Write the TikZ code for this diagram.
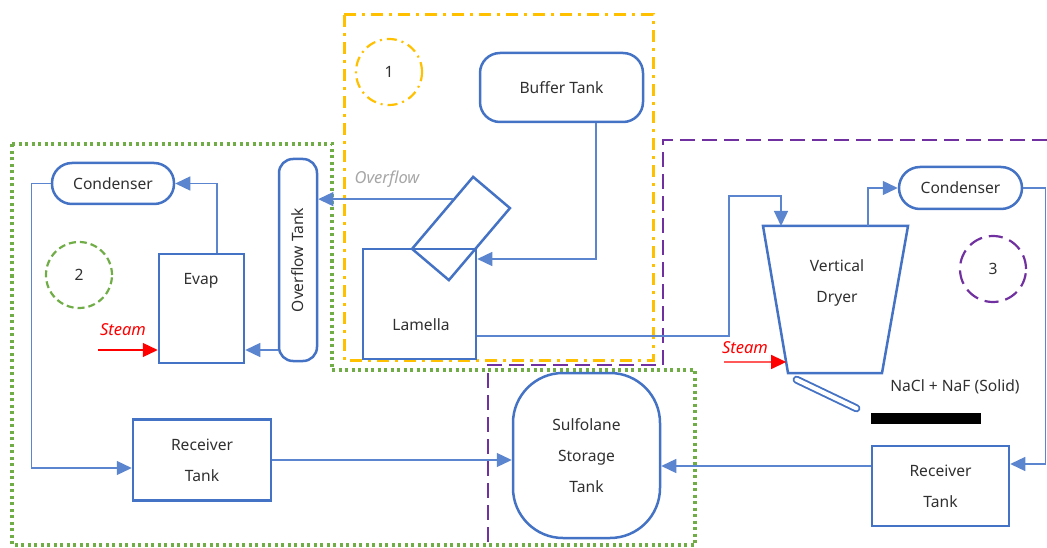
\documentclass[tikz,border=0pt]{standalone}
\usepackage{fontspec}
\usepackage{graphicx}
\setmainfont{Noto Sans}
\usetikzlibrary{arrows.meta,calc}
\definecolor{boxblue}{HTML}{4472C4}
\definecolor{lineblue}{HTML}{5B85CF}
\definecolor{txtgray}{HTML}{303030}
\definecolor{zoneyellow}{HTML}{FFC000}
\definecolor{zonegreen}{HTML}{70AD47}
\definecolor{zonepurple}{HTML}{7030A0}
\definecolor{ovgray}{HTML}{A6A6A6}
\begin{document}
\begin{tikzpicture}[x=1pt,y=-1pt,
  txt/.style={text=txtgray,font=\fontsize{15.6}{18}\selectfont,inner sep=0pt},
  multi/.style={align=center,font=\fontsize{15.6}{31}\selectfont},
  unit/.style={draw=boxblue,line width=2.5pt,inner sep=0pt,txt},
  unitline/.style={draw=boxblue,line width=2.5pt},
  conn/.style={draw=lineblue,line width=1.3pt,-{Triangle[length=15pt,width=14pt]}},
  steamarrow/.style={draw=red,line width=1.3pt,-{Triangle[length=15pt,width=14pt]},color=red},
  steamtxt/.style={text=red,font=\fontsize{16.5}{19}\selectfont\itshape,inner sep=0pt},
  yellowzone/.style={draw=zoneyellow,line width=3pt,dash pattern=on 12pt off 6pt on 3pt off 6pt},
  greenzone/.style={draw=zonegreen,line width=3.2pt,dash pattern=on 3pt off 3.5pt},
  purplezone/.style={draw=zonepurple,line width=2pt,dash pattern=on 15pt off 7pt},
  zonecircle/.style={circle,minimum size=66pt,inner sep=0pt,line width=2.2pt,txt}
]
\useasboundingbox (0,0) rectangle (1047,548);

% zones
\draw[yellowzone] (344,15) rectangle (653,360);
\draw[greenzone] (12,144) -- (332,144) -- (332,370) -- (695,370) -- (695,545) -- (12,545) -- cycle;
\draw[purplezone] (1047,140) -- (663,140) -- (663,365) -- (488,365) -- (488,548);

\node[zonecircle,draw=zoneyellow,dash pattern=on 10pt off 5pt on 2pt off 5pt] (z1) at (389,72) {1};
\node[zonecircle,draw=zonegreen,dash pattern=on 7pt off 4pt] (z2) at (79,275) {2};
\node[zonecircle,draw=zonepurple,dash pattern=on 14pt off 7pt] (z3) at (993,269) {3};

% units
\node[unit,rounded corners=20pt,minimum width=163pt,minimum height=69pt] (buffer) at (561.5,87.5) {Buffer Tank};
\node[unit,minimum width=113pt,minimum height=110pt] (lamella) at (419.5,304) {};
\node[txt] (lamellatxt) at (421,325) {Lamella};
\node[unit,rotate=49.7,minimum width=94.4pt,minimum height=48.3pt] (settler) at (461,228.5) {};
\node[unit,rounded corners=14pt,minimum width=38pt,minimum height=202pt] (ovtank) at (298,260) {\rotatebox{90}{Overflow Tank}};
\node[unit,minimum width=85pt,minimum height=109pt] (evap) at (201.5,308.5) {};
\node[txt] (evaptxt) at (201,281) {Evap};
\node[unit,rounded corners=20pt,minimum width=122pt,minimum height=41pt] (condL) at (113,183.5) {Condenser};
\node[unit,multi,minimum width=138pt,minimum height=81pt] (recvL) at (202,460) {Receiver\\Tank};
\node[unit,multi,rounded corners=50pt,minimum width=147pt,minimum height=165pt] (sulf) at (586.5,455.5) {Sulfolane\\Storage\\Tank};
\node[unit,multi,minimum width=137pt,minimum height=80pt] (recvR) at (940.5,486) {Receiver\\Tank};
\node[unit,rounded corners=21pt,minimum width=123pt,minimum height=42pt] (condR) at (960.5,188) {Condenser};

% dryer
\coordinate (dTL) at (763,226);
\coordinate (dTR) at (908,226);
\coordinate (dBR) at (882,373);
\coordinate (dBL) at (788,373);
\draw[unitline] (dTL) -- (dTR) -- (dBR) -- (dBL) -- cycle;
\node[txt,multi] (dryer) at (837,282.5) {Vertical\\Dryer};
\coordinate (dIn) at (781,226);
\coordinate (dOut) at (868,226);
\coordinate (dSteam) at ($(dTL)!0.925!(dBL)$);

% chute and solid
\coordinate (chA) at (796.6,379.7);
\coordinate (chB) at (856.4,408.3);
\draw[boxblue,line width=8pt,line cap=round] (chA) -- (chB);
\draw[white,line width=4.2pt,line cap=round] (chA) -- (chB);
\fill[black] (871,413) rectangle (981,424);
\node[txt] (solidtxt) at (955,387) {NaCl + NaF (Solid)};

% connectors
\draw[conn] ([xshift=34.5pt]buffer.south) |- ([yshift=45pt]lamella.east);
\coordinate (ovs) at ($(settler.north)!0.35!(settler.north east)$);
\draw[conn] (ovs) -- (ovs -| ovtank.east);
\node[steamtxt,text=ovgray] (ovtxt) at (387,179) {Overflow};
\path ([yshift=-90pt]ovtank.west) coordinate (o2e);
\draw[conn] (o2e) -- (o2e -| evap.east);
\draw[conn] ([xshift=15.5pt]evap.north) |- (condL.east);
\path ([yshift=-8pt]recvL.west) coordinate (c2r);
\draw[conn] (condL.west) -- ++(-19,0) |- (c2r);
\draw[conn] (recvL.east) -- (recvL.east -| sulf.west);
\path ([yshift=-32pt]lamella.east) coordinate (l2d);
\draw[conn] (l2d) -| (729,196) -| (dIn);
\draw[conn] (dOut) |- (condR.west);
\path ([yshift=22pt]recvR.east) coordinate (c2rR);
\draw[conn] (condR.east) -- ++(22,0) |- (c2rR);
\path ([yshift=20pt]recvR.west) coordinate (r2s);
\draw[conn] (r2s) -- (r2s -| sulf.east);

% steam
\coordinate (steamLsrc) at (98,350);
\draw[steamarrow] (steamLsrc) -- (steamLsrc -| evap.west);
\node[steamtxt] (steamLtxt) at (123,330) {Steam};
\coordinate (steamRsrc) at (724,362);
\draw[steamarrow] (steamRsrc) -- (dSteam);
\node[steamtxt] (steamRtxt) at (745,348) {Steam};
\end{tikzpicture}
\end{document}
